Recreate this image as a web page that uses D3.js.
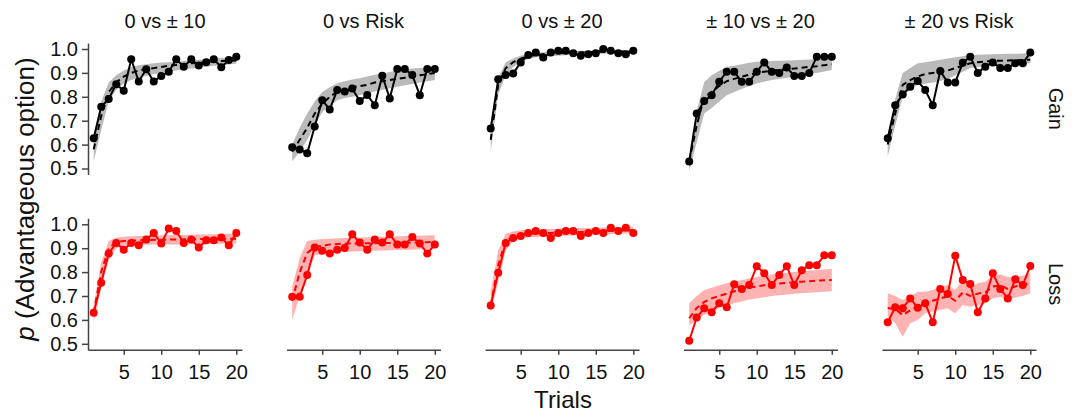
<!DOCTYPE html>
<html><head><meta charset="utf-8">
<script src="https://cdn.jsdelivr.net/npm/d3@7"></script>
<style>body{margin:0;background:#fff}svg{display:block}text{font-family:"Liberation Sans",Arial,sans-serif}</style>
</head><body><svg id="c" width="1073" height="413"></svg>
<script>
const trials = [1,2,3,4,5,6,7,8,9,10,11,12,13,14,15,16,17,18,19,20];
const titles = ["0 vs \u00b1 10","0 vs Risk","0 vs \u00b1 20","\u00b1 10 vs \u00b1 20","\u00b1 20 vs Risk"];
const rowLabels = ["Gain","Loss"];
const xTicks = [5,10,15,20];
const yTicks = [0.5,0.6,0.7,0.8,0.9,1.0];

// observed choice rates, Gain condition (one array per panel)
const obsGain = [
 [0.627,0.758,0.791,0.853,0.825,0.957,0.864,0.915,0.864,0.887,0.905,0.957,0.926,0.957,0.931,0.945,0.957,0.924,0.954,0.968],
 [0.589,0.580,0.564,0.676,0.786,0.747,0.828,0.822,0.835,0.782,0.808,0.765,0.888,0.793,0.916,0.916,0.891,0.807,0.916,0.916],
 [0.667,0.873,0.891,0.898,0.944,0.975,0.985,0.964,0.985,0.993,0.993,0.982,0.972,0.978,0.982,1.000,0.993,0.982,0.978,0.993],
 [0.529,0.730,0.782,0.807,0.863,0.905,0.905,0.863,0.863,0.905,0.944,0.905,0.900,0.923,0.887,0.887,0.900,0.968,0.968,0.968],
 [0.627,0.765,0.810,0.842,0.866,0.828,0.765,0.908,0.860,0.860,0.942,0.968,0.900,0.926,0.944,0.921,0.921,0.940,0.940,0.985]
];
// model fit (dashed) and its band, Gain
const fitGain = [
 [0.58,0.72,0.82,0.86,0.885,0.90,0.91,0.915,0.92,0.925,0.93,0.933,0.936,0.94,0.942,0.945,0.947,0.95,0.951,0.952],
 [0.57,0.62,0.67,0.73,0.77,0.80,0.82,0.83,0.84,0.845,0.85,0.86,0.865,0.87,0.875,0.88,0.885,0.89,0.895,0.90],
 [0.62,0.85,0.92,0.945,0.96,0.97,0.975,0.978,0.98,0.982,0.984,0.985,0.986,0.987,0.988,0.988,0.989,0.989,0.99,0.99],
 [0.53,0.68,0.80,0.82,0.845,0.865,0.875,0.884,0.892,0.90,0.905,0.91,0.913,0.916,0.918,0.922,0.925,0.928,0.932,0.936],
 [0.60,0.73,0.85,0.87,0.885,0.895,0.90,0.905,0.91,0.92,0.93,0.94,0.945,0.948,0.95,0.951,0.952,0.953,0.954,0.955]
];
const hiGain = [
 [0.64,0.78,0.86,0.89,0.91,0.925,0.932,0.936,0.94,0.943,0.945,0.947,0.95,0.952,0.955,0.957,0.96,0.962,0.964,0.966],
 [0.60,0.67,0.73,0.78,0.82,0.84,0.857,0.865,0.872,0.878,0.885,0.892,0.898,0.904,0.91,0.914,0.918,0.92,0.923,0.926],
 [0.66,0.88,0.945,0.96,0.972,0.98,0.984,0.986,0.988,0.99,0.991,0.992,0.993,0.993,0.994,0.994,0.995,0.995,0.995,0.996],
 [0.55,0.74,0.862,0.89,0.909,0.926,0.93,0.936,0.942,0.947,0.948,0.95,0.951,0.952,0.953,0.955,0.956,0.958,0.959,0.96],
 [0.64,0.79,0.90,0.92,0.94,0.945,0.95,0.955,0.96,0.965,0.97,0.975,0.976,0.977,0.978,0.979,0.98,0.98,0.981,0.982]
];
const loGain = [
 [0.53,0.66,0.78,0.83,0.855,0.87,0.88,0.888,0.895,0.90,0.906,0.91,0.915,0.918,0.922,0.926,0.93,0.932,0.935,0.938],
 [0.53,0.57,0.62,0.68,0.735,0.765,0.786,0.795,0.80,0.807,0.815,0.822,0.83,0.836,0.842,0.848,0.854,0.86,0.865,0.87],
 [0.57,0.81,0.89,0.925,0.945,0.958,0.965,0.968,0.97,0.972,0.974,0.976,0.977,0.978,0.979,0.98,0.981,0.982,0.982,0.983],
 [0.49,0.61,0.73,0.753,0.78,0.807,0.82,0.833,0.845,0.856,0.863,0.87,0.875,0.88,0.884,0.89,0.895,0.90,0.906,0.912],
 [0.55,0.68,0.80,0.83,0.85,0.855,0.86,0.866,0.875,0.89,0.905,0.92,0.925,0.928,0.93,0.932,0.934,0.936,0.938,0.94]
];

// observed choice rates, Loss condition
const obsLoss = [
 [0.630,0.755,0.878,0.922,0.894,0.922,0.912,0.936,0.964,0.920,0.982,0.972,0.922,0.936,0.903,0.933,0.933,0.945,0.912,0.964],
 [0.697,0.697,0.788,0.903,0.889,0.878,0.894,0.901,0.958,0.924,0.894,0.936,0.924,0.958,0.915,0.915,0.947,0.920,0.878,0.915],
 [0.660,0.797,0.922,0.943,0.951,0.964,0.972,0.964,0.943,0.964,0.972,0.972,0.951,0.964,0.972,0.964,0.986,0.972,0.986,0.964],
 [0.513,0.610,0.649,0.632,0.670,0.653,0.749,0.729,0.746,0.825,0.795,0.746,0.788,0.825,0.746,0.808,0.829,0.829,0.871,0.871],
 [0.590,0.653,0.649,0.690,0.651,0.670,0.590,0.729,0.708,0.868,0.767,0.750,0.632,0.690,0.795,0.729,0.690,0.770,0.746,0.826]
];
const fitLoss = [
 [0.63,0.80,0.90,0.925,0.93,0.932,0.933,0.934,0.935,0.935,0.936,0.936,0.937,0.937,0.938,0.938,0.939,0.939,0.94,0.94],
 [0.68,0.80,0.88,0.905,0.91,0.915,0.918,0.919,0.92,0.92,0.921,0.921,0.922,0.922,0.923,0.923,0.924,0.925,0.925,0.926],
 [0.66,0.83,0.93,0.95,0.955,0.96,0.962,0.963,0.964,0.965,0.966,0.967,0.968,0.969,0.97,0.971,0.972,0.973,0.974,0.975],
 [0.607,0.65,0.675,0.69,0.70,0.71,0.72,0.725,0.735,0.74,0.745,0.75,0.752,0.755,0.758,0.76,0.762,0.764,0.766,0.767],
 [0.65,0.645,0.62,0.64,0.655,0.67,0.68,0.69,0.70,0.68,0.715,0.70,0.71,0.715,0.74,0.745,0.73,0.74,0.745,0.755]
];
const hiLoss = [
 [0.66,0.84,0.93,0.945,0.948,0.95,0.951,0.952,0.953,0.954,0.954,0.955,0.955,0.956,0.957,0.957,0.958,0.959,0.96,0.96],
 [0.74,0.86,0.93,0.935,0.938,0.94,0.942,0.943,0.944,0.945,0.946,0.947,0.948,0.949,0.95,0.951,0.952,0.952,0.953,0.954],
 [0.72,0.89,0.96,0.97,0.975,0.977,0.978,0.979,0.98,0.981,0.982,0.983,0.984,0.985,0.986,0.987,0.988,0.988,0.989,0.99],
 [0.67,0.70,0.725,0.735,0.745,0.753,0.76,0.767,0.773,0.78,0.785,0.79,0.793,0.797,0.80,0.803,0.806,0.809,0.811,0.8125],
 [0.711,0.70,0.683,0.697,0.718,0.718,0.725,0.74,0.746,0.725,0.767,0.74,0.753,0.76,0.785,0.79,0.78,0.78,0.785,0.795]
];
const loLoss = [
 [0.59,0.74,0.85,0.90,0.91,0.912,0.913,0.914,0.915,0.915,0.916,0.916,0.917,0.917,0.918,0.918,0.919,0.919,0.92,0.92],
 [0.60,0.70,0.80,0.87,0.875,0.88,0.883,0.885,0.886,0.887,0.888,0.889,0.89,0.891,0.892,0.893,0.894,0.896,0.897,0.899],
 [0.63,0.76,0.89,0.93,0.94,0.945,0.947,0.949,0.95,0.951,0.952,0.953,0.954,0.955,0.956,0.957,0.958,0.96,0.961,0.962],
 [0.577,0.60,0.62,0.635,0.65,0.66,0.67,0.677,0.685,0.69,0.695,0.70,0.703,0.706,0.709,0.712,0.714,0.716,0.718,0.72],
 [0.614,0.586,0.53,0.586,0.60,0.628,0.635,0.642,0.648,0.628,0.662,0.655,0.662,0.67,0.69,0.697,0.683,0.694,0.70,0.711]
];

const svg = d3.select("#c");
const panelStep = 198.5, panelW = 154, firstLeft = 88;
const rows = [
  {obs: obsGain, fit: fitGain, hi: hiGain, lo: loGain, color: "#000000", band: "#000000", bandOp: 0.27, y1: 49, label: rowLabels[0]},
  {obs: obsLoss, fit: fitLoss, hi: hiLoss, lo: loLoss, color: "#ff0000", band: "#ff0000", bandOp: 0.3, y1: 224.3, label: rowLabels[1]}
];
const pxPerUnit = 239;
const axisColor = "#444";
const font = "Liberation Sans, Arial, sans-serif";

rows.forEach((row, r) => {
  const y = d3.scaleLinear().domain([0.475, 1.025])
    .range([row.y1 + 0.525 * pxPerUnit, row.y1 - 0.025 * pxPerUnit]);
  titles.forEach((t, k) => {
    const left = firstLeft + panelStep * k;
    const x = d3.scaleLinear().domain([0.24, 20.76]).range([left, left + panelW]);
    const g = svg.append("g");
    const pts = trials.map((tr, i) => ({t: tr, o: row.obs[k][i], m: row.fit[k][i], h: row.hi[k][i], l: row.lo[k][i]}));
    g.append("path").datum(pts)
      .attr("d", d3.area().x(d => x(d.t)).y0(d => y(d.l)).y1(d => y(d.h)))
      .attr("fill", row.band).attr("fill-opacity", row.bandOp).attr("stroke", "none");
    g.append("path").datum(pts)
      .attr("d", d3.line().x(d => x(d.t)).y(d => y(d.m)))
      .attr("fill", "none").attr("stroke", row.color).attr("stroke-width", 2).attr("stroke-dasharray", "6,4");
    g.append("path").datum(pts)
      .attr("d", d3.line().x(d => x(d.t)).y(d => y(d.o)))
      .attr("fill", "none").attr("stroke", row.color).attr("stroke-width", 2);
    g.selectAll("circle").data(pts).join("circle")
      .attr("cx", d => x(d.t)).attr("cy", d => y(d.o)).attr("r", 4).attr("fill", row.color);

    if (r === 0) {
      svg.append("text").attr("x", left + panelW / 2).attr("y", 27.5)
        .attr("text-anchor", "middle").attr("font-size", 20).attr("fill", "#111").text(t);
    }
    if (r === 1) {
      const xa = svg.append("g").attr("transform", `translate(0,${y(0.475)})`)
        .call(d3.axisBottom(x).tickValues(xTicks).tickSize(5).tickSizeOuter(0).tickPadding(10));
      xa.selectAll("path,line").attr("stroke", axisColor).attr("stroke-width", 1.5);
      xa.selectAll("text").attr("font-size", 20).attr("fill", "#111").style("font-family", font);
    }
    if (k === 0) {
      const ya = svg.append("g").attr("transform", `translate(${left},0)`)
        .call(d3.axisLeft(y).tickValues(yTicks).tickFormat(d3.format(".1f")).tickSize(6).tickSizeOuter(0).tickPadding(4));
      ya.selectAll("path,line").attr("stroke", axisColor).attr("stroke-width", 1.5);
      ya.selectAll("text").attr("font-size", 20).attr("fill", "#111").style("font-family", font);
    }
  });
  const yc = (y(0.475) + y(1.025)) / 2;
  svg.append("text").attr("transform", `translate(1056,${yc}) rotate(90)`)
    .attr("text-anchor", "middle").attr("dominant-baseline", "central")
    .attr("font-size", 20).attr("fill", "#111").text(row.label);
});

// axis titles
svg.append("text").attr("x", 563).attr("y", 408).attr("text-anchor", "middle")
  .attr("font-size", 24).attr("fill", "#111").text("Trials");
const yl = svg.append("text").attr("transform", "translate(34,199) rotate(-90)")
  .attr("text-anchor", "middle").attr("font-size", 26).attr("fill", "#111");
yl.append("tspan").attr("font-style", "italic").text("p");
yl.append("tspan").text(" (Advantageous option)");
</script></body></html>
